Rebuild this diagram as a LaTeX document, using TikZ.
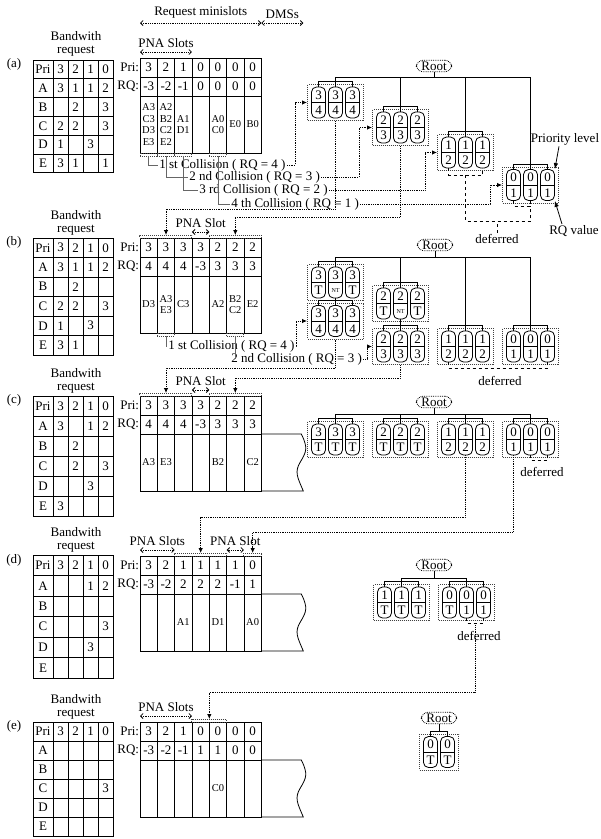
\documentclass[tikz,border=0pt]{standalone}
\usepackage{fontspec}
\setmainfont{Liberation Serif}
\usetikzlibrary{arrows.meta, positioning, calc}
\tikzset{
    txt/.style={inner sep=1pt},
    cell/.style={draw, minimum width=17.33pt, minimum height=19pt, inner sep=0pt, outer sep=0pt},
    datacell/.style={cell, minimum height=57pt, align=center, font=\fontsize{10.5}{11.7}\selectfont},
    bwcell/.style={draw, minimum width=15pt, minimum height=19pt, inner sep=0pt, outer sep=0pt},
    bwhead/.style={bwcell, minimum width=20pt},
    slotmark/.style={draw=black!75, densely dotted, line width=1pt, minimum width=17.33pt, minimum height=3pt,
        inner sep=0pt, outer sep=0pt},
    span/.style={densely dotted, {Straight Barb[length=2.5pt,width=5pt]}-{Straight Barb[length=2.5pt,width=5pt]}},
    conn/.style={densely dotted, -{Latex[length=5pt,width=4.5pt]}},
    lead/.style={black!60},
    defer/.style={dashed},
    pointer/.style={-{Latex[length=6pt,width=4.5pt]}},
    rootbox/.style={draw, densely dotted, rounded corners=7pt, inner xsep=5pt, inner ysep=1.5pt},
    grpbox/.style={draw=black!75, densely dotted, line width=1pt, minimum height=36pt, inner sep=0pt},
    capbox/.style={draw, rounded corners=5pt, minimum width=14pt, minimum height=31pt, inner sep=0pt},
    pics/capsule/.style 2 args={code={
        \node[capbox] (-box) {};
        \draw (-box.west) -- (-box.east);
        \node[inner sep=0pt] at (0,-7.5) {#1};
        \node[inner sep=0pt] at (0,7.8) {#2};
    }},
}
\newcommand{\smallnt}{{\fontsize{6}{6}\selectfont NT}}
% bandwidth request table: name, top, row height, rows
\newcommand{\bwtable}[4]{%
  \foreach \rl/\ca/\cb/\cc/\cd [count=\jx] in {#4} {
    \node[bwhead, minimum height=#3] (#1-r\jx) at (43, {#2+(\jx-0.5)*#3}) {\rl};
    \foreach \cv [count=\kx] in {\ca,\cb,\cc,\cd}
      \node[bwcell, minimum height=#3] (#1-r\jx-\kx) at ({45.5+\kx*15}, {#2+(\jx-0.5)*#3}) {\cv};
  }%
}
% slot table: name, top, Pri row, RQ row, stations
\newcommand{\slottable}[5]{%
  \node[txt, anchor=east] (#1-pl) at (140.5, {#2+9.5}) {Pri:};
  \node[txt, anchor=east] (#1-ql) at (140.5, {#2+28.5}) {RQ:};
  \foreach \cv [count=\ix] in {#3}
    \node[cell] (#1-p\ix) at ({140+(\ix-0.5)*17.33}, {#2+9.5}) {\cv};
  \foreach \cv [count=\ix] in {#4}
    \node[cell] (#1-q\ix) at ({140+(\ix-0.5)*17.33}, {#2+28.5}) {\cv};
  \foreach \cv [count=\ix] in {#5}
    \node[datacell] (#1-d\ix) at ({140+(\ix-0.5)*17.33}, {#2+66.5}) {\cv};
}
% group of capsules: name, x, y, count, priority/RQ pairs
\newcommand{\capgroup}[5]{%
  \node[grpbox, minimum width={#4*17+5}] (#1) at (#2,#3) {};
  \foreach \ct/\cbt [count=\kx] in {#5}
    \pic (#1c\kx) at ({#2+(\kx-(#4+1)/2)*17}, #3) {capsule={\ct}{\cbt}};
  \draw (#1c1-box.north) -- ++(0,-5) -| (#1c#4-box.north);
  \coordinate (#1-top) at ($(#1c1-box.north -| #1)+(0,-5)$);
  \ifnum#4=3 \draw (#1c2-box.north) -- (#1-top);\fi
}

\begin{document}
\begin{tikzpicture}[x=1pt, y=-1pt, line width=0.8pt, font=\fontsize{13}{13.5}\selectfont]
    \fill[white] (0,0) rectangle (601,839);
    \useasboundingbox (0,0) rectangle (601,839);

    % (a)
    \node[txt] (a-lab) at (14,64) {(a)};
    \node[txt, align=center] (a-bw) at (76,44) {Bandwith\\request};
    \bwtable{a}{60}{18.8}{Pri/3/2/1/0, A/3/1/1/2, B/{}/2/{}/3, C/2/2/{}/3, D/1/{}/3/{}, E/3/1/{}/1}
    \slottable{a}{58}{3,2,1,0,0,0,0}{-3,-2,-1,0,0,0,0}{{A3\\C3\\D3\\E3},{A2\\B2\\C2\\E2},{A1\\D1},{},{A0\\C0},E0,B0}
    \coordinate (a-dmsend) at ([xshift=42pt,yshift=35pt]a-p7.north east);
    \draw[span] ([yshift=35pt]a-p1.north west) -- node[above=1pt] (a-rms) {Request minislots} ([yshift=35pt]a-p7.north east);
    \draw[span] ([yshift=35pt]a-p7.north east) -- node[above=1pt] (a-dms) {DMSs} (a-dmsend);
    \draw[span] ([yshift=6pt]a-p1.north west) -- node[above=1pt] (a-pna) {PNA Slots} ([yshift=6pt]a-p3.north east);
    \foreach \ix in {1,2,3,5}
        \node[slotmark, anchor=north] (a-b\ix) at (a-d\ix.south) {};

    \node[txt, anchor=west] (a-l1) at (158,165) {1 st Collision ( RQ = 4 )};
    \node[txt, anchor=west] (a-l2) at (188,177) {2 nd Collision ( RQ = 3 )};
    \node[txt, anchor=west] (a-l3) at (198,190) {3 rd Collision ( RQ = 2 )};
    \node[txt, anchor=west] (a-l4) at (230,204) {4 th Collision ( RQ = 1 )};
    \draw[lead] (a-b1.south) |- (a-l1.west);
    \draw[lead] (a-b2.south) |- (a-l2.west);
    \draw[lead] (a-b3.south) |- (a-l3.west);
    \draw[lead] (a-b5.south) |- (a-l4.west);

    \node[rootbox] (a-root) at (434,66) {Root};
    \capgroup{a1}{335.5}{102.5}{3}{3/4,3/4,3/4}
    \capgroup{a2}{400.5}{127.5}{3}{2/3,2/3,2/3}
    \capgroup{a3}{465.5}{152.5}{3}{1/2,1/2,1/2}
    \capgroup{a4}{530.5}{185}{3}{0/1,0/1,0/1}
    \coordinate (a-bus) at (0,77);
    \draw (a-root.south) -- (a-root.south |- a-bus);
    \draw (a1-top) |- (a4-top |- a-bus) -- (a4-top);
    \draw (a2-top) -- (a2-top |- a-bus);
    \draw (a3-top) -- (a3-top |- a-bus);

    \draw[conn] (a-l1.east) -| ([xshift=-12pt]a1.west) -- (a1.west);
    \draw[conn] (a-l2.east) -| ([xshift=-13pt]a2.west) -- (a2.west);
    \draw[conn] (a-l3.east) -| ([xshift=-12pt]a3.west) -- (a3.west);
    \draw[conn] (a-l4.east) -| ([xshift=-12pt]a4.west) -- (a4.west);

    \draw[defer] (a3c1-box.south) -- ++(0,7) -| (a3c3-box.south);
    \draw[defer] (a4c1-box.south) -- ++(0,5) -| (a4c2-box.south);
    \coordinate (a3-dfb) at ($(a3c2-box.south)+(0,7)$);
    \coordinate (a4-dfb) at ($(a4c2-box.south)+(0,5)$);
    \draw[defer] (a3-dfb) -- ++(0,46) coordinate (a-dfj) -| (a4-dfb);
    \node[txt] (a-dfl) at (497,239) {deferred};
    \draw[defer] (a-dfl.north) -- (a-dfl.north |- a-dfj);

    \node[txt] (a-prio) at (565,139) {Priority level};
    \node[txt] (a-rqv) at (574,231) {RQ value};
    \draw[pointer] ([xshift=-6pt]a-prio.south) -- (a4c3-box.north east);
    \draw[pointer] ([xshift=-12pt]a-rqv.north) -- (a4c3-box.south east);

    % (b)
    \node[txt] (b-lab) at (14,242) {(b)};
    \node[txt, align=center] (b-bw) at (76,223) {Bandwith\\request};
    \bwtable{b}{238}{19.5}{Pri/3/2/1/0, A/3/1/1/2, B/{}/2/{}/{}, C/2/2/{}/3, D/1/{}/3/{}, E/3/1/{}/{}}
    \slottable{b}{238}{3,3,3,3,2,2,2}{4,4,4,-3,3,3,3}{D3,{A3\\E3},C3,{},A2,{B2\\C2},E2}
    \node[slotmark, minimum width=52pt, anchor=south] (b-m1) at (b-p2.north) {};
    \node[slotmark, minimum width=52pt, anchor=south] (b-m2) at (b-p6.north) {};
    \draw[span] ([yshift=6pt]b-p4.north west) -- node[above=1pt] (b-pna) {PNA Slot} ([yshift=6pt]b-p4.north east);
    \foreach \ix in {2,6}
        \node[slotmark, anchor=north] (b-b\ix) at (b-d\ix.south) {};
    \node[txt, anchor=west] (b-l1) at (167,346) {1 st Collision ( RQ = 4 )};
    \node[txt, anchor=west] (b-l2) at (230,359) {2 nd Collision ( RQ = 3 )};
    \draw[lead] (b-b2.south) |- (b-l1.west);
    \draw[lead] (b-b6.south) -- (b-b6.south |- b-l2.center);

    \node[rootbox] (b-root) at (435,245) {Root};
    \capgroup{b1u}{335.5}{282.5}{3}{3/T,3/\smallnt,3/T}
    \capgroup{b1l}{335.5}{321}{3}{3/4,3/4,3/4}
    \capgroup{b2u}{400.5}{303.5}{3}{2/T,2/\smallnt,2/T}
    \capgroup{b2l}{400.5}{346.5}{3}{2/3,2/3,2/3}
    \capgroup{b3}{465.5}{346.5}{3}{1/2,1/2,1/2}
    \capgroup{b4}{530.5}{346.5}{3}{0/1,0/1,0/1}
    \coordinate (b-bus) at (0,257);
    \draw (b-root.south) -- (b-root.south |- b-bus);
    \draw (b1u-top) |- (b4-top |- b-bus) -- (b4-top);
    \draw (b2u-top) -- (b2u-top |- b-bus);
    \draw (b3-top) -- (b3-top |- b-bus);
    \draw (b1uc2-box.south) -- (b1l-top);
    \draw (b2uc2-box.south) -- (b2l-top);

    \draw[conn] (b-l1.east) -| ([xshift=-11pt]b1l.west) -- (b1l.west);
    \draw[conn] (b-l2.east) -| ([xshift=-5pt]b2l.west) -- (b2l.west);
    \draw[defer] (b3c1-box.south) -- ++(0,6) -| (b4c3-box.south);
    \node[txt] (b-dfl) at (500,381) {deferred};

    \draw[conn] (a1.south) |- ([yshift=26pt]b-m1.north) -- (b-m1.north);
    \draw[conn] (a2.south) |- ([yshift=18pt]b-m2.north) -- (b-m2.north);

    % (c)
    \node[txt] (c-lab) at (14,400) {(c)};
    \node[txt, align=center] (c-bw) at (76,381) {Bandwith\\request};
    \bwtable{c}{396}{20}{Pri/3/2/1/0, A/3/{}/1/2, B/{}/2/{}/{}, C/{}/2/{}/3, D/{}/{}/3/{}, E/3/{}/{}/{}}
    \slottable{c}{396}{3,3,3,3,2,2,2}{4,4,4,-3,3,3,3}{A3,E3,{},{},B2,{},C2}
    \node[slotmark, minimum width=52pt, anchor=south] (c-m1) at (c-p2.north) {};
    \node[slotmark, minimum width=52pt, anchor=south] (c-m2) at (c-p6.north) {};
    \draw[span] ([yshift=6pt]c-p4.north west) -- node[above=1pt] (c-pna) {PNA Slot} ([yshift=6pt]c-p4.north east);

    \node[rootbox] (c-root) at (434,402) {Root};
    \capgroup{c1}{335.5}{439.5}{3}{3/T,3/T,3/T}
    \capgroup{c2}{400.5}{439.5}{3}{2/T,2/T,2/T}
    \capgroup{c3}{465.5}{439.5}{3}{1/2,1/2,1/2}
    \capgroup{c4}{530.5}{439.5}{3}{0/1,0/1,0/1}
    \coordinate (c-bus) at (0,414);
    \draw (c-root.south) -- (c-root.south |- c-bus);
    \draw (c1-top) |- (c4-top |- c-bus) -- (c4-top);
    \draw (c2-top) -- (c2-top |- c-bus);
    \draw (c3-top) -- (c3-top |- c-bus);
    \draw[defer] (c4c2-box.south) -- ++(0,5) -| (c4c3-box.south);
    \node[txt] (c-dfl) at (542,472) {deferred};

    \draw[conn] (b1l.south) |- ([yshift=25pt]c-m1.north) -- (c-m1.north);
    \draw[conn] (b2l.south) |- ([yshift=15pt]c-m2.north) -- (c-m2.north);

    % (d)
    \node[txt] (d-lab) at (14,560) {(d)};
    \node[txt, align=center] (d-bw) at (76,540) {Bandwith\\request};
    \bwtable{d}{555}{20.5}{Pri/3/2/1/0, A/{}/{}/1/2, B/{}/{}/{}/{}, C/{}/{}/{}/3, D/{}/{}/3/{}, E/{}/{}/{}/{}}
    \slottable{d}{556}{3,2,1,1,1,1,0}{-3,-2,2,2,2,-1,1}{{},{},A1,{},D1,{},A0}
    \node[slotmark, minimum width=52pt, anchor=south] (d-m1) at (d-p4.north) {};
    \node[slotmark, anchor=south] (d-m2) at (d-p7.north) {};
    \draw[span] ([yshift=6pt]d-p1.north west) -- node[above=1pt] (d-pna1) {PNA Slots} ([yshift=6pt]d-p2.north east);
    \draw[span] ([yshift=6pt]d-p6.north west) -- node[above=1pt] (d-pna2) {PNA Slot} ([yshift=6pt]d-p6.north east);

    \node[rootbox] (d-root) at (434,565) {Root};
    \capgroup{d1}{401.5}{602.5}{3}{1/T,1/T,1/T}
    \capgroup{d2}{466.5}{602.5}{3}{0/T,0/1,0/1}
    \coordinate (d-bus) at (0,578);
    \draw (d-root.south) -- (d-root.south |- d-bus);
    \draw (d1-top) |- (d2-top |- d-bus) -- (d2-top);
    \draw[defer] (d2c2-box.south) -- ++(0,5) -| (d2c3-box.south);
    \coordinate (d-dfb) at ($(d2c2-box.south)!0.5!(d2c3-box.south)+(0,5)$);
    \node[txt] (d-dfl) at (479,636) {deferred};

    \draw[conn] (c3c2-box.south) |- ([yshift=36pt]d-m1.north) -- (d-m1.north);
    \draw[conn] (c4c1-box.south) |- ([yshift=21pt]d-m2.north) -- (d-m2.north);

    % (e)
    \node[txt] (e-lab) at (14,726) {(e)};
    \node[txt, align=center] (e-bw) at (76,707) {Bandwith\\request};
    \bwtable{e}{722}{19}{Pri/3/2/1/0, A/{}/{}/{}/{}, B/{}/{}/{}/{}, C/{}/{}/{}/3, D/{}/{}/{}/{}, E/{}/{}/{}/{}}
    \slottable{e}{722}{3,2,1,0,0,0,0}{-3,-2,-1,1,1,0,0}{{},{},{},{},C0,{},{}}
    \node[slotmark, minimum width=34.67pt, anchor=south] (e-m1) at (e-p4.north east) {};
    \draw[span] ([yshift=6pt]e-p1.north west) -- node[above=1pt] (e-pna) {PNA Slots} ([yshift=6pt]e-p3.north east);

    \node[rootbox] (e-root) at (439,718) {Root};
    \capgroup{e1}{439}{752}{2}{0/T,0/T}
    \draw (e-root.south) -- (e1-top);

    \draw[conn] (d-dfb) |- ([yshift=27pt]e-m1.north) -- (e-m1.north);

    % torn right edge of the data rows
    \foreach \pn in {c,d,e}
        \draw (\pn-d7.north east) -- ++(40,0) .. controls +(7,14) and +(6,-10) .. ++(-1,28)
            .. controls +(-6,10) and +(-6,-14) .. ++(3,29) -- (\pn-d7.south east);
\end{tikzpicture}
\end{document}
